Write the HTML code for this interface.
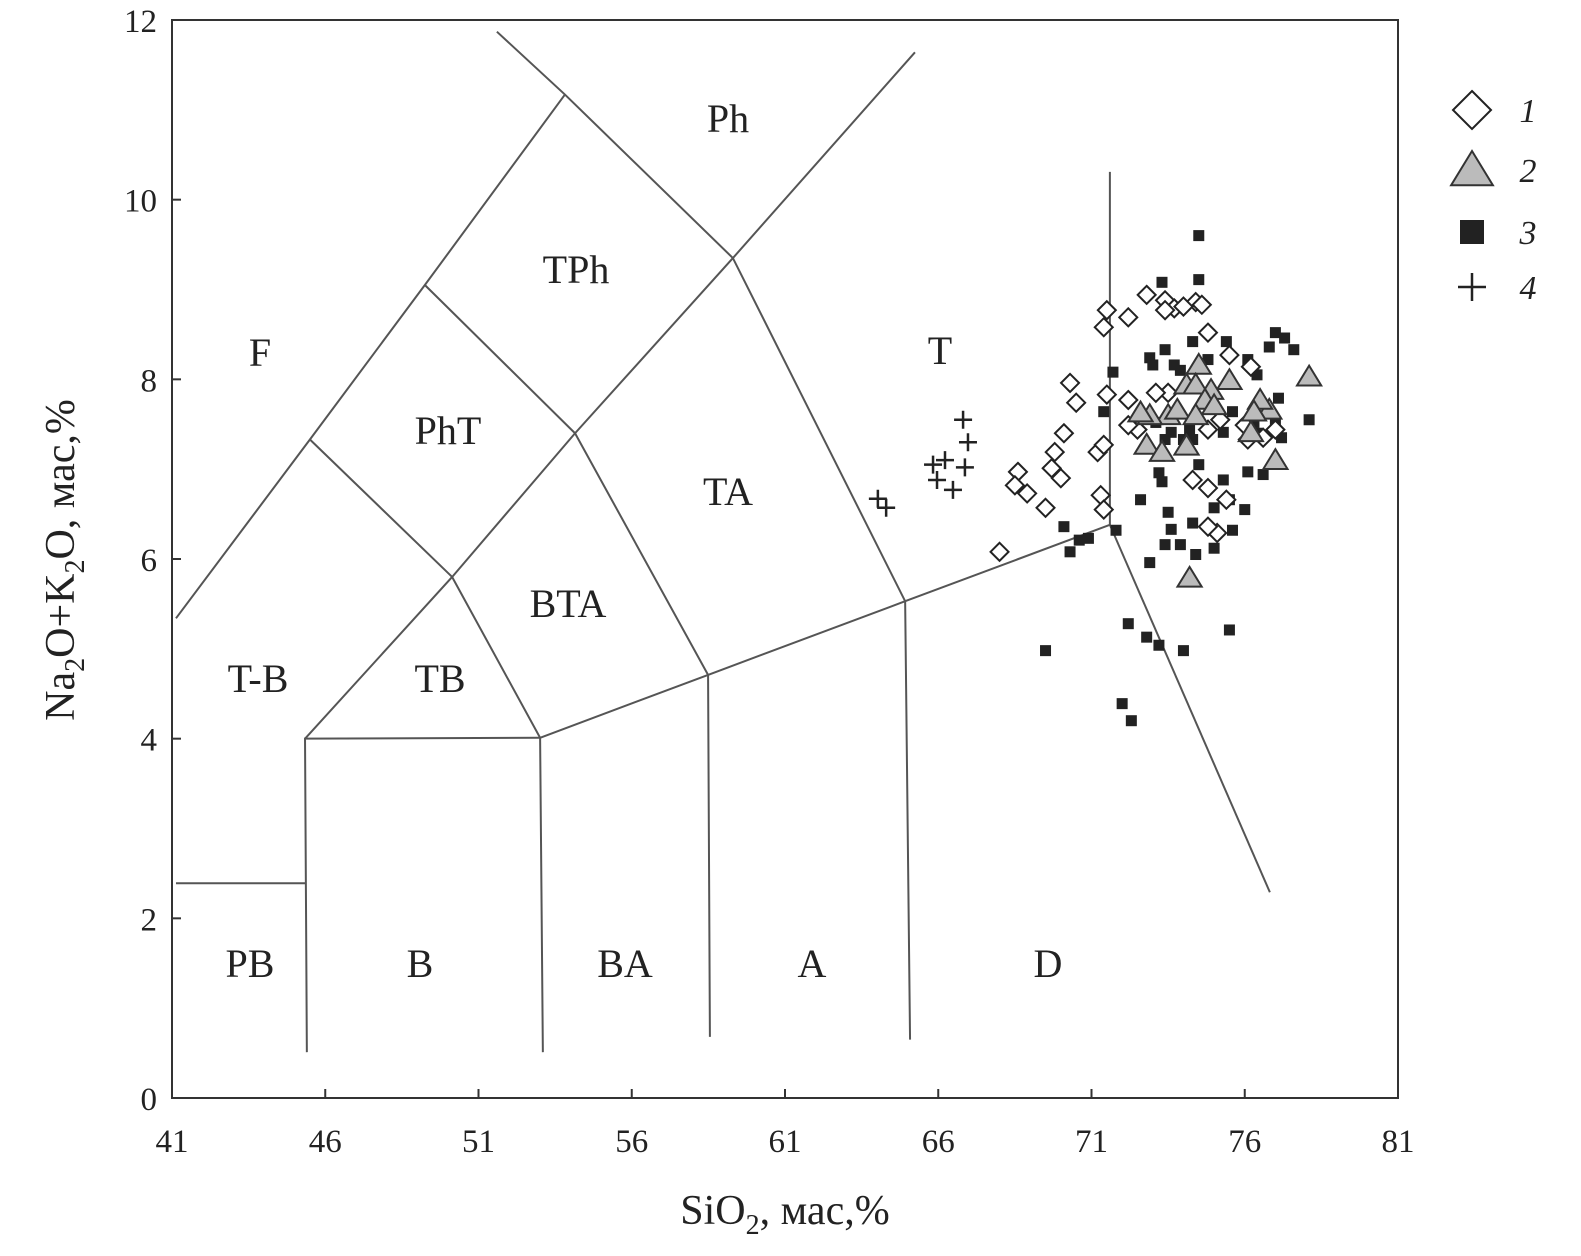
<!DOCTYPE html>
<html><head><meta charset="utf-8"><style>
html,body{margin:0;padding:0;background:#fff}
svg{display:block}
text{font-family:"Liberation Serif",serif;fill:#222}
</style></head><body>
<svg id="chart" width="1581" height="1256" viewBox="0 0 1581 1256">
<g id="fields"></g>
<g id="axes"></g>
<g id="labels"></g>
<g id="points"></g>
<g id="legend"></g>
</svg>
<script>
const xTicks=[41,46,51,56,61,66,71,76,81];
const yTicks=[0,2,4,6,8,10,12];
const s1x=[68.0,68.6,68.5,68.9,69.5,69.7,70.0,69.8,70.1,70.3,70.5,71.3,71.4,71.2,71.4,71.5,71.5,71.4,72.2,72.8,73.4,73.7,73.4,74.4,74.0,74.6,74.8,75.5,76.2,73.5,73.1,72.5,72.2,72.2,74.3,74.8,75.4,75.1,74.8,76.0,76.6,77.0,76.1,74.8,75.2];
const s1y=[6.08,6.97,6.82,6.73,6.57,7.01,6.90,7.19,7.40,7.96,7.74,6.71,6.55,7.19,7.27,7.83,8.77,8.58,8.69,8.94,8.88,8.79,8.77,8.86,8.81,8.83,8.52,8.27,8.14,7.85,7.85,7.44,7.49,7.77,6.88,6.79,6.66,6.29,6.36,7.49,7.35,7.44,7.33,7.44,7.55];
const s2x=[78.1,76.8,77.0,76.2,76.5,75.5,74.9,74.5,74.1,74.4,74.7,75.0,73.5,72.9,72.6,73.8,74.4,72.8,73.3,74.1,74.2,76.3];
const s2y=[8.03,7.66,7.10,7.41,7.77,7.99,7.88,8.16,7.94,7.94,7.77,7.71,7.60,7.60,7.63,7.66,7.60,7.27,7.19,7.26,5.79,7.64];
const s3x=[74.5,74.5,73.3,74.3,75.4,73.4,72.9,73.0,73.7,73.9,74.8,76.1,77.0,77.3,76.8,77.6,76.4,71.7,71.4,73.4,73.6,73.1,74.0,74.2,75.3,75.6,76.3,76.4,77.0,77.2,77.1,78.1,76.1,76.6,73.3,73.2,74.5,74.3,75.3,75.0,75.5,73.5,73.6,72.6,74.3,73.9,73.4,72.9,74.4,75.0,76.0,75.6,71.8,70.6,70.9,70.3,70.1,69.5,72.2,72.8,73.2,74.0,75.5,72.0,72.3];
const s3y=[9.60,9.11,9.08,8.42,8.42,8.33,8.24,8.16,8.16,8.10,8.22,8.22,8.52,8.46,8.36,8.33,8.05,8.08,7.64,7.33,7.41,7.52,7.33,7.44,7.41,7.64,7.52,7.40,7.52,7.35,7.79,7.55,6.97,6.94,6.86,6.96,7.05,7.33,6.88,6.57,6.66,6.52,6.33,6.66,6.40,6.16,6.16,5.96,6.05,6.12,6.55,6.32,6.32,6.21,6.23,6.08,6.36,4.98,5.28,5.13,5.04,4.98,5.21,4.39,4.20];
const s4x=[66.81,66.97,65.83,66.22,66.87,65.96,66.48,64.03,64.30];
const s4y=[7.55,7.30,7.05,7.10,7.02,6.88,6.77,6.67,6.57];
const boundaries=[
 [[41.13,5.34],[45.50,7.33],[49.25,9.05],[53.82,11.17]],
 [[51.60,11.87],[53.82,11.17],[59.30,9.35],[64.92,5.53],[65.08,0.65]],
 [[45.34,4.00],[50.14,5.80],[54.15,7.40],[59.30,9.35],[65.24,11.64]],
 [[45.50,7.33],[50.14,5.80],[53.01,4.01],[53.10,0.51]],
 [[49.25,9.05],[54.15,7.40],[58.49,4.71],[58.55,0.68]],
 [[53.01,4.01],[58.49,4.71],[64.92,5.53],[71.60,6.38],[71.60,10.31]],
 [[71.60,6.38],[76.82,2.29]],
 [[45.40,0.51],[45.34,4.00],[53.01,4.01]],
 [[41.13,2.39],[45.34,2.39]]
];
const X0=172,X1=1398,Y0=1098,Y1=20;
const sx=v=>X0+(v-41)/40*(X1-X0);
const sy=v=>Y0-(v/12)*(Y0-Y1);
const NS='http://www.w3.org/2000/svg';
function mk(tag,attrs,parent){const e=document.createElementNS(NS,tag);for(const k in attrs)e.setAttribute(k,attrs[k]);parent.appendChild(e);return e;}
const fields=document.getElementById('fields');
boundaries.forEach((b,i)=>{
 const p=mk('polyline',{points:b.map(q=>sx(q[0])+','+sy(q[1])).join(' '),fill:'none',stroke:'#555','stroke-width':2},fields);
 
 
});
const axes=document.getElementById('axes');
const fr=mk('rect',{x:X0,y:Y1,width:X1-X0,height:Y0-Y1,fill:'none',stroke:'#333','stroke-width':2},axes);


xTicks.forEach(t=>{
 mk('line',{x1:sx(t),x2:sx(t),y1:Y0,y2:Y0-9,stroke:'#333','stroke-width':2},axes);
 const tx=mk('text',{x:sx(t),y:1152,'text-anchor':'middle','font-size':33},axes);tx.textContent=t;
 
 
});
yTicks.forEach(t=>{
 mk('line',{x1:X0,x2:X0+9,y1:sy(t),y2:sy(t),stroke:'#333','stroke-width':2},axes);
 const tx=mk('text',{x:157,y:sy(t)+12,'text-anchor':'end','font-size':33},axes);tx.textContent=t;
 
 
});
const xt=mk('text',{x:785,y:1224,'text-anchor':'middle','font-size':42},axes);
xt.innerHTML='SiO<tspan font-size="28" dy="10">2</tspan><tspan dy="-10">, мас,%</tspan>';


const yt=mk('text',{x:0,y:0,'text-anchor':'middle','font-size':42,transform:'translate(74,560) rotate(-90)'},axes);
yt.innerHTML='Na<tspan font-size="28" dy="10">2</tspan><tspan dy="-10">O+K</tspan><tspan font-size="28" dy="10">2</tspan><tspan dy="-10">O, мас,%</tspan>';


const labs=[['Ph',728,132],['TPh',576,283],['F',260,366],['T',940,364],['PhT',448,444],['TA',728,505],['BTA',568,617],['T-B',258,692],['TB',440,692],['PB',250,977],['B',420,977],['BA',625,977],['A',812,977],['D',1048,977]];
const lg=document.getElementById('labels');
labs.forEach(l=>{const t=mk('text',{x:l[1],y:l[2],'text-anchor':'middle','font-size':40},lg);t.textContent=l[0];
 
 });
const pts=document.getElementById('points');
function diamond(cx,cy,r,par){return mk('polygon',{points:`${cx},${cy-r} ${cx+r},${cy} ${cx},${cy+r} ${cx-r},${cy}`,fill:'#fff',stroke:'#222','stroke-width':2},par);}
function tri(cx,cy,r,par){return mk('polygon',{points:`${cx},${cy-r} ${cx+r*1.1},${cy+r*0.8} ${cx-r*1.1},${cy+r*0.8}`,fill:'#bbb',stroke:'#333','stroke-width':2},par);}
function sq(cx,cy,r,par){return mk('rect',{x:cx-r,y:cy-r,width:2*r,height:2*r,fill:'#222'},par);}
function cross(cx,cy,r,par){return mk('path',{d:`M${cx-r},${cy}H${cx+r}M${cx},${cy-r}V${cy+r}`,stroke:'#222','stroke-width':2.5,fill:'none'},par);}
s3x.forEach((v,i)=>{const e=sq(sx(v),sy(s3y[i]),5.5,pts);
 
 });
s1x.forEach((v,i)=>{const e=diamond(sx(v),sy(s1y[i]),9,pts);
 
 });
s2x.forEach((v,i)=>{const e=tri(sx(v),sy(s2y[i]),11,pts);
 
 });
s4x.forEach((v,i)=>{const e=cross(sx(v),sy(s4y[i]),9,pts);
 
 });
const leg=document.getElementById('legend');
const items=[[diamond,110,19,'1'],[tri,170,19,'2'],[sq,232,12,'3'],[cross,287,14,'4']];
items.forEach(it=>{const m=it[0](1472,it[1],it[2],leg);
 
 
 const t=mk('text',{x:1528,y:it[1]+12,'text-anchor':'middle','font-size':34,'font-style':'italic'},leg);t.textContent=it[3];
 
 });
</script>
</body></html>
